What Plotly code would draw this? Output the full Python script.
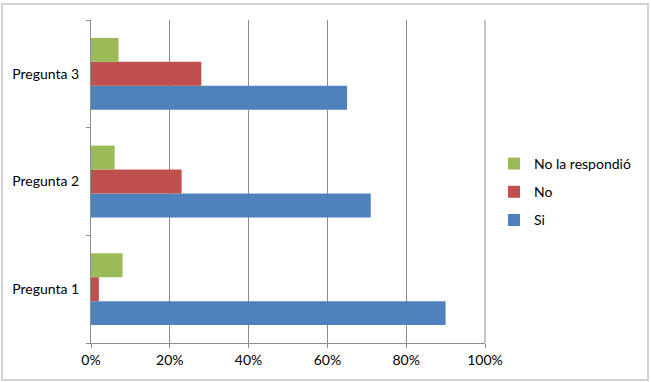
import plotly.graph_objects as go

categories = ["Pregunta 1", "Pregunta 2", "Pregunta 3"]
si = [0.90, 0.71, 0.65]
no = [0.02, 0.23, 0.28]
no_resp = [0.08, 0.06, 0.07]

series_names = ["Si", "No", "No la respondió"]
series_colors = ["#4F81BD", "#C0504D", "#9BBB59"]
x_ticks = [0, 0.2, 0.4, 0.6, 0.8, 1.0]

W, H = 651, 382
L, R, T, B = 91, 485, 20, 343

fig = go.Figure()
for i, (name, vals, col) in enumerate(zip(series_names, [si, no, no_resp], series_colors)):
    fig.add_trace(go.Bar(
        y=categories, x=vals, name=name, orientation="h",
        marker=dict(color=col, line=dict(width=0)),
        legendgroup=name, legendrank=1000 - i,
    ))

def px_x(p):
    return (p - L) / (R - L)

def px_y(p):
    return (B - p) / (B - T)

fig.update_layout(
    width=W, height=H,
    margin=dict(l=L, r=W - R, t=T, b=H - B, pad=0, autoexpand=False),
    paper_bgcolor="white", plot_bgcolor="white",
    font=dict(family="Lato, Open Sans, sans-serif", size=14, color="#000"),
    barmode="group", bargap=0.333, bargroupgap=0,
    showlegend=True,
    legend=dict(
        traceorder="grouped", tracegroupgap=7,
        x=px_x(494), xanchor="left", y=px_y(192), yanchor="middle",
        font=dict(size=14), bgcolor="rgba(0,0,0,0)",
    ),
    xaxis=dict(
        range=[0, 1], tickvals=x_ticks, tickformat=".0%",
        showgrid=True, gridcolor="#8c8c8c", gridwidth=1,
        showline=True, linecolor="#8c8c8c", linewidth=1,
        ticks="outside", ticklen=4, tickcolor="#8c8c8c",
        zeroline=False, fixedrange=True, automargin=False,
    ),
    yaxis=dict(
        categoryorder="array", categoryarray=categories,
        showgrid=False, showline=True, linecolor="#8c8c8c", linewidth=1,
        ticks="outside", ticklen=4, tickcolor="#8c8c8c",
        tickson="boundaries", ticklabelstandoff=8,
        zeroline=False, fixedrange=True, automargin=False,
    ),
    shapes=[
        dict(type="rect", xref="paper", yref="paper",
             x0=px_x(2), x1=px_x(648), y0=px_y(380), y1=px_y(4),
             line=dict(color="#d2d2d2", width=2), layer="below"),
        dict(type="line", xref="paper", yref="paper",
             x0=1, x1=1, y0=0, y1=1,
             line=dict(color="#8c8c8c", width=1)),
    ],
)

fig.write_html("out.html")
